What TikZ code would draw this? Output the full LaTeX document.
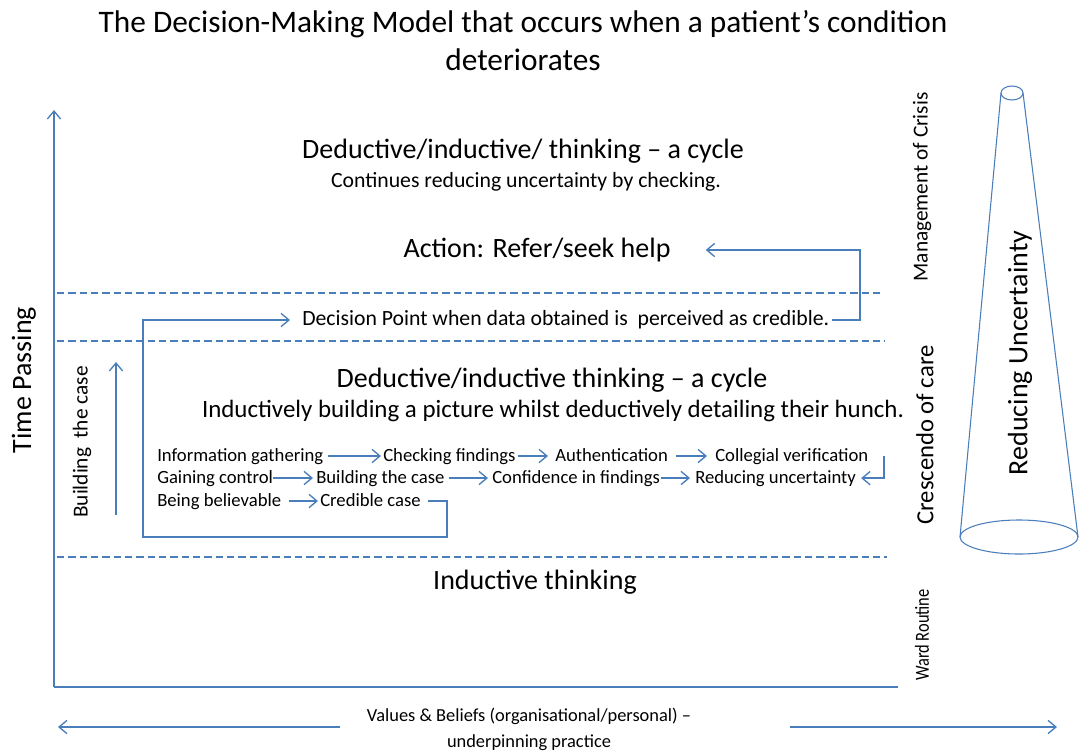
\documentclass[tikz,border=0pt]{standalone}
\usepackage{fontspec}
\setmainfont{Carlito}
\usetikzlibrary{arrows.meta}
\definecolor{lb}{RGB}{74,126,187}
\begin{document}
\begin{tikzpicture}[x=0.75pt,y=-0.75pt,
  conn/.style={draw=lb,line width=1pt},
  arr/.style={conn,-{Straight Barb[length=6pt,width=10pt]}},
  dline/.style={draw=lb,line width=0.9pt,dash pattern=on 5.5pt off 3pt},
  txt/.style={inner sep=0pt,text=black},
  rowlbl/.style={txt,anchor=base west,font=\fontsize{14}{17}\selectfont},
  big/.style={txt,font=\fontsize{21}{25}\selectfont},
  side/.style={txt,rotate=90}
]
\useasboundingbox (0,0) rectangle (1081,754);

% title
\node[txt,align=center,font=\fontsize{23.5}{28.5}\selectfont] (title) at (523,41)
  {The Decision-Making Model that occurs when a patient’s condition\\deteriorates};

% axes
\coordinate (O) at (54,687);
\coordinate (Ytop) at (54,110);
\coordinate (Xend) at (898,687);
\draw[arr] (O) -- (Ytop);
\draw[conn] (O) -- (Xend);
\node[side,font=\fontsize{21}{25}\selectfont] (tp) at (24,380) {Time Passing};

% dashed lines
\coordinate (d1a) at (57,293); \coordinate (d1b) at (883,293);
\coordinate (d2a) at (57,341); \coordinate (d2b) at (885,341);
\coordinate (d3a) at (57,557); \coordinate (d3b) at (887,557);
\draw[dline] (d1a) -- (d1b);
\draw[dline] (d2a) -- (d2b);
\draw[dline] (d3a) -- (d3b);

% top region
\node[big] (ded1) at (523,151) {Deductive/inductive/ thinking – a cycle};
\node[txt,font=\fontsize{16.3}{19}\selectfont] (cont) at (526,182) {Continues reducing uncertainty by checking.};
\node[big] (act) at (537,250) {Action: Refer/seek help};

% decision point
\node[txt,anchor=west,font=\fontsize{16.3}{19}\selectfont] (dp) at (302,320) {Decision Point when data obtained is\ \ perceived as credible.};
\draw[arr] ([shift={(3,0)}]dp.east) -- (860,320) |- ([shift={(35,0)}]act.east);

% middle region
\node[big] (ded2) at (552,380) {Deductive/inductive thinking – a cycle};
\node[txt,font=\fontsize{18.7}{22}\selectfont] (ind) at (553,411) {Inductively building a picture whilst deductively detailing their hunch.};

% building the case
\coordinate (bcb) at (116,515);
\coordinate (bct) at (116,362);
\draw[arr] (bcb) -- (bct);
\node[side,font=\fontsize{16}{19}\selectfont] (bclbl) at (82,442) {Building\ \ the case};

% rows (baselines)
\node[rowlbl] (ig) at (157,461) {Information gathering};
\node[rowlbl] (cf) at (383,461) {Checking findings};
\node[rowlbl] (au) at (555,461) {Authentication};
\node[rowlbl] (cv) at (715,461) {Collegial verification};
\node[rowlbl] (gc) at (157,483) {Gaining control};
\node[rowlbl] (btc) at (316,483) {Building the case};
\node[rowlbl] (cif) at (492,483) {Confidence in findings};
\node[rowlbl] (ru) at (695,483) {Reducing uncertainty};
\node[rowlbl] (bb) at (157,506) {Being believable};
\node[rowlbl] (cc) at (320,506) {Credible case};

\draw[arr] ([shift={(5,-5)}]ig.base east) -- ([shift={(-2,-5)}]cf.base west);
\draw[arr] ([shift={(2,-5)}]cf.base east) -- ([shift={(-7,-5)}]au.base west);
\draw[arr] ([shift={(8,-5)}]au.base east) -- ([shift={(-8,-5)}]cv.base west);
\draw[arr] ([shift={(0,-5)}]gc.base east) -- ([shift={(-3,-5)}]btc.base west);
\draw[arr] ([shift={(4,-5)}]btc.base east) -- ([shift={(-4,-5)}]cif.base west);
\draw[arr] ([shift={(1,-5)}]cif.base east) -- ([shift={(-5,-5)}]ru.base west);
\coordinate (rv) at (884,456);
\draw[arr] (rv) -- (rv |- ru.east) -- ([shift={(5,0)}]ru.east);
\draw[arr] ([shift={(8,-5)}]bb.base east) -- ([shift={(-2,-5)}]cc.base west);

% loop from credible case to decision point
\coordinate (l1) at (447,501);
\coordinate (l2) at (447,537);
\coordinate (l3) at (143,537);
\draw[arr] ([shift={(7,-5)}]cc.base east) -- (l1) -- (l2) -- (l3) -- (l3 |- dp.west) -- ([shift={(-12,0)}]dp.west);

% bottom region
\node[big] (indt) at (535,582) {Inductive thinking};

% right side labels
\node[side,font=\fontsize{16}{19}\selectfont] (moc) at (922,187) {Management of Crisis};
\node[side,font=\fontsize{18.5}{22}\selectfont] (coc) at (925,435) {Crescendo of care};
\node[side,font=\fontsize{15}{18}\selectfont] (wr) at (922,635) {\scalebox{0.82}[1]{Ward Routine}};

% cone
\draw[conn,line width=0.8pt] (1012,93) ellipse [x radius=11, y radius=7];
\draw[conn,line width=0.8pt] (1019,537) ellipse [x radius=59, y radius=17];
\draw[conn,line width=0.8pt] (1001,93) -- (960,537);
\draw[conn,line width=0.8pt] (1023,93) -- (1078,537);
\node[side,font=\fontsize{21}{25}\selectfont] (ru2) at (1020,353) {Reducing Uncertainty};

% values & beliefs
\node[txt,align=center,font=\fontsize{13.8}{19.5}\selectfont] (vb) at (529,729)
  {Values \& Beliefs (organisational/personal) –\\underpinning practice};
\coordinate (la) at (340,727);
\coordinate (lb) at (58,727);
\coordinate (ra) at (790,727);
\coordinate (rb) at (1057,727);
\draw[arr] (la) -- (lb);
\draw[arr] (ra) -- (rb);
\end{tikzpicture}
\end{document}
